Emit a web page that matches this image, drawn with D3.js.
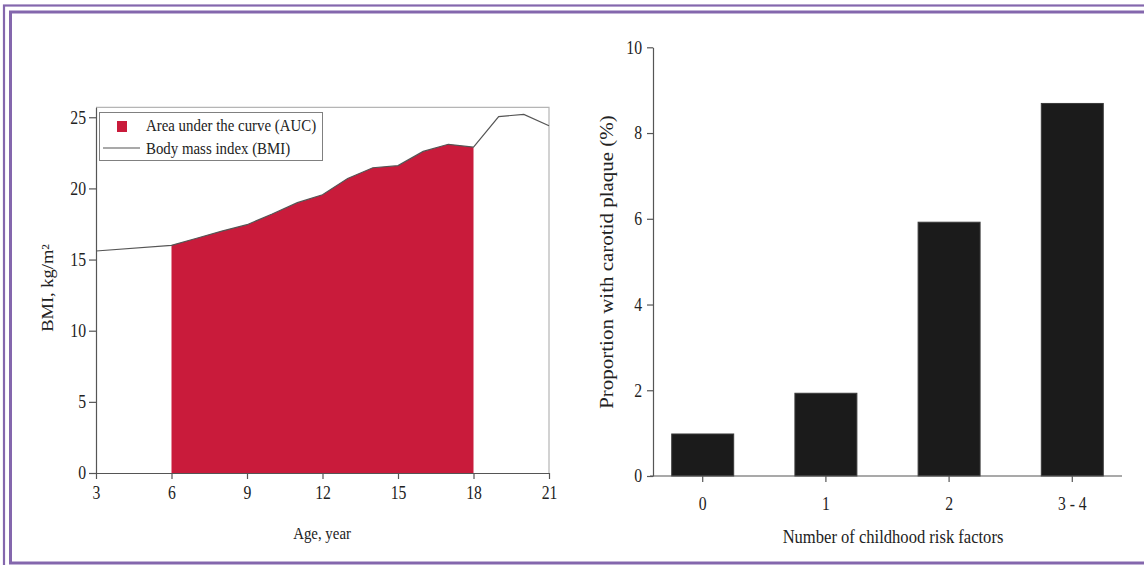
<!DOCTYPE html>
<html>
<head>
<meta charset="utf-8">
<script src="https://cdn.jsdelivr.net/npm/d3@7"></script>
<style>
body { margin: 0; background: #fff; }
svg text { font-family: "Liberation Serif", "Times New Roman", serif; fill: #222; }
</style>
</head>
<body>
<div id="chart-area"></div>
<script>
// left panel: BMI over age
const ages = [3, 6, 7, 8, 9, 10, 11, 12, 13, 14, 15, 16, 17, 18, 19, 20, 21]
const bmi = [15.6, 16.0, 16.5, 17.0, 17.45, 18.2, 19.0, 19.55, 20.7, 21.45, 21.6, 22.6, 23.1, 22.9, 25.05, 25.2, 24.4]
const ageTicks = [3, 6, 9, 12, 15, 18, 21]
const bmiTicks = [0, 5, 10, 15, 20, 25]
const aucAges = [6, 18]

// right panel: carotid plaque by risk factors
const riskGroups = ["0", "1", "2", "3 - 4"]
const plaque = [0.98, 1.93, 5.92, 8.69]
const plaqueTicks = [0, 2, 4, 6, 8, 10]

const WIDTH = 1144
const HEIGHT = 565
const PURPLE = "#8467ad"
const SQ = 0.85   // glyphs in the picture are narrower than tall

const svg = d3.select("#chart-area").append("svg")
    .attr("width", WIDTH)
    .attr("height", HEIGHT)

// squeeze text horizontally around its anchor
function squish(sel, origin) {
    sel.style("transform-box", "fill-box")
       .style("transform-origin", origin)
       .style("transform", `scaleX(${SQ})`)
}

// purple double frame
svg.append("rect")
    .attr("x", 4).attr("y", 5.5)
    .attr("width", WIDTH + 20).attr("height", HEIGHT + 20)
    .attr("fill", "none").attr("stroke", PURPLE).attr("stroke-width", 2.2)
svg.append("rect")
    .attr("x", 10.5).attr("y", 12)
    .attr("width", WIDTH + 20).attr("height", 551)
    .attr("fill", "none").attr("stroke", PURPLE).attr("stroke-width", 3)

/* ---------- left chart ---------- */
const L = {LEFT: 96, RIGHT: 549, TOP: 107.3, BOTTOM: 473}
const data1 = ages.map((a, i) => ({age: a, bmi: bmi[i]}))

const x1 = d3.scaleLinear().domain([3, 21]).range([L.LEFT, L.RIGHT])
const y1 = d3.scaleLinear().domain([0, 25.7]).range([L.BOTTOM, L.TOP])

const g1 = svg.append("g")

// light frame top / right
g1.append("path")
    .attr("d", `M${x1(3)},${y1(25.7)}H${x1(21)}V${y1(0)}`)
    .attr("fill", "none").attr("stroke", "#b5b5b5").attr("stroke-width", 1.2)

// area under the curve
const area = d3.area()
    .x(d => x1(d.age))
    .y0(y1(0))
    .y1(d => y1(d.bmi))
g1.append("path")
    .datum(data1.filter(d => d.age >= aucAges[0] && d.age <= aucAges[1]))
    .attr("d", area)
    .attr("fill", "#c91b3b")

// BMI line
const line = d3.line()
    .x(d => x1(d.age))
    .y(d => y1(d.bmi))
g1.append("path")
    .datum(data1)
    .attr("d", line)
    .attr("fill", "none").attr("stroke", "#555").attr("stroke-width", 1.2)

// axes
const xAxis1 = g1.append("g")
    .attr("transform", `translate(0, ${L.BOTTOM})`)
    .call(d3.axisBottom(x1).tickValues(ageTicks).tickSize(6).tickSizeOuter(0).tickPadding(7))
const yAxis1 = g1.append("g")
    .attr("transform", `translate(${L.LEFT}, 0)`)
    .call(d3.axisLeft(y1).tickValues(bmiTicks).tickSize(7).tickSizeOuter(0).tickPadding(3))
;[xAxis1, yAxis1].forEach(a => {
    a.attr("font-size", "18.5px").attr("font-family", null)
    a.selectAll(".domain, line").attr("stroke", "#555").attr("stroke-width", 1.2)
})
squish(xAxis1.selectAll("text"), "center")
squish(yAxis1.selectAll("text"), "right center")

// legend
const lg = g1.append("g")
lg.append("rect")
    .attr("x", 99.5).attr("y", 112.5).attr("width", 223).attr("height", 48)
    .attr("fill", "#fff").attr("stroke", "#808080").attr("stroke-width", 1)
lg.append("rect")
    .attr("x", 117).attr("y", 121).attr("width", 10).attr("height", 11)
    .attr("fill", "#c91b3b")
lg.append("line")
    .attr("x1", 103).attr("x2", 140).attr("y1", 148).attr("y2", 148)
    .attr("stroke", "#555").attr("stroke-width", 1.2)
lg.append("text")
    .attr("x", 146).attr("y", 131.5)
    .attr("font-size", "17.5px")
    .text("Area under the curve (AUC)")
    .call(squish, "left center")
lg.append("text")
    .attr("x", 146).attr("y", 154)
    .attr("font-size", "17.5px")
    .text("Body mass index (BMI)")
    .call(squish, "left center")

// titles
g1.append("text")
    .attr("x", 322).attr("y", 539)
    .attr("font-size", "17.5px")
    .attr("text-anchor", "middle")
    .text("Age, year")
    .call(squish, "center")
g1.append("text")
    .attr("transform", `translate(53, 288) scale(${SQ}, 1) rotate(-90)`)
    .attr("font-size", "18.5px")
    .attr("text-anchor", "middle")
    .text("BMI, kg/m²")

/* ---------- right chart ---------- */
const R = {LEFT: 653, RIGHT: 1122, TOP: 47.3, BOTTOM: 476}

const x2 = d3.scaleBand()
    .domain(riskGroups)
    .range([R.LEFT, R.RIGHT])
    .paddingInner(0.497)
    .paddingOuter(0.152)
const y2 = d3.scaleLinear().domain([0, 10]).range([R.BOTTOM, R.TOP])

const g2 = svg.append("g")

g2.selectAll("rect.bar")
    .data(plaque)
    .enter().append("rect")
    .attr("class", "bar")
    .attr("x", (d, i) => x2(riskGroups[i]))
    .attr("y", d => y2(d))
    .attr("width", x2.bandwidth())
    .attr("height", d => R.BOTTOM - y2(d))
    .attr("fill", "#1b1b1b")
    .attr("stroke", "#3a3a3a")
    .attr("stroke-width", 1)

const xAxis2 = g2.append("g")
    .attr("transform", `translate(0, ${R.BOTTOM})`)
    .call(d3.axisBottom(x2).tickSize(6).tickSizeOuter(0).tickPadding(15))
const yAxis2 = g2.append("g")
    .attr("transform", `translate(${R.LEFT}, 0)`)
    .call(d3.axisLeft(y2).tickValues(plaqueTicks).tickSize(6).tickSizeOuter(0).tickPadding(5))
;[xAxis2, yAxis2].forEach(a => {
    a.attr("font-size", "18.5px").attr("font-family", null)
    a.selectAll(".domain, line").attr("stroke", "#555").attr("stroke-width", 1.2)
})
// x axis line starts a little left of the y axis
xAxis2.select(".domain").attr("d", `M${R.LEFT - 3},0H${R.RIGHT}`)
squish(xAxis2.selectAll("text"), "center")
squish(yAxis2.selectAll("text"), "right center")

g2.append("text")
    .attr("x", 893).attr("y", 543)
    .attr("font-size", "19.5px")
    .attr("text-anchor", "middle")
    .text("Number of childhood risk factors")
    .call(squish, "center")
g2.append("text")
    .attr("transform", `translate(613, 262) scale(${SQ}, 1) rotate(-90)`)
    .attr("font-size", "21px")
    .attr("text-anchor", "middle")
    .text("Proportion with carotid plaque (%)")
</script>
</body>
</html>
